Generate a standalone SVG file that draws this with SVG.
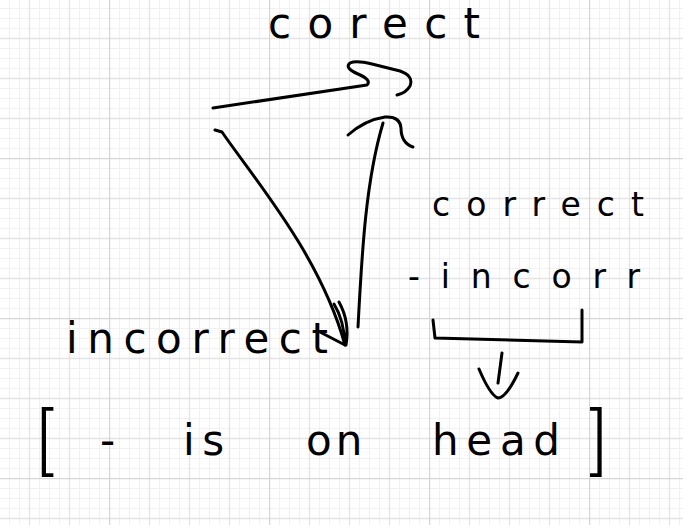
<svg xmlns="http://www.w3.org/2000/svg" width="683" height="525" viewBox="0 0 683 525">
  <style>
    .ink { fill: none; stroke: #000; stroke-width: 3; stroke-linecap: round; stroke-linejoin: round; }
    .hw { font-family: "DejaVu Sans", "Liberation Sans", sans-serif; fill: #000; }
    .br { font-family: "Roboto", "Inter", "Liberation Sans", sans-serif; font-weight: 300; }
  </style>
  <defs>
    <pattern id="grid" x="109" y="158" width="160" height="160" patternUnits="userSpaceOnUse">
      <path d="M10.5,0V160M20.5,0V160M30.5,0V160M50.5,0V160M60.5,0V160M70.5,0V160M90.5,0V160M100.5,0V160M110.5,0V160M130.5,0V160M140.5,0V160M150.5,0V160
               M0,10.5H160M0,20.5H160M0,30.5H160M0,50.5H160M0,60.5H160M0,70.5H160M0,90.5H160M0,100.5H160M0,110.5H160M0,130.5H160M0,140.5H160M0,150.5H160"
            stroke="#f1f1f1" stroke-width="1" fill="none"/>
      <path d="M40.5,0V160M80.5,0V160M120.5,0V160M0,40.5H160M0,80.5H160M0,120.5H160" stroke="#e4e4e4" stroke-width="1.3" fill="none"/>
      <path d="M0.5,0V160M0,0.5H160" stroke="#d6d6d6" stroke-width="1.5" fill="none"/>
    </pattern>
  </defs>
  <rect width="683" height="525" fill="#fff"/>
  <rect width="683" height="525" fill="url(#grid)"/>

  <g id="node-corect">
    <text class="hw" x="268" y="38" font-size="42" textLength="212" lengthAdjust="spacing">corect</text>
  </g>

  <g id="node-correct-incorr">
    <text class="hw" x="432" y="216" font-size="33" textLength="212" lengthAdjust="spacing">correct</text>
    <text class="hw" x="408" y="288" font-size="33" textLength="232" lengthAdjust="spacing">-incorr</text>
    <path class="ink" d="M433,320 L435,338 L582,342 L582,310"/>
  </g>

  <g id="node-incorrect">
    <text class="hw" x="66" y="353" font-size="42" textLength="262" lengthAdjust="spacing">incorrect</text>
  </g>

  <g id="node-head">
    <text class="hw" font-size="42"><tspan class="br" x="36" y="466" font-size="72">[</tspan><tspan x="100" y="455" textLength="30" lengthAdjust="spacing">- </tspan><tspan x="183" y="455" textLength="62" lengthAdjust="spacing">is </tspan><tspan x="306" y="455" textLength="74" lengthAdjust="spacing">on </tspan><tspan x="432" y="455" textLength="128" lengthAdjust="spacing">head</tspan><tspan class="br" x="590" y="466" font-size="72">]</tspan></text>
  </g>

  <g id="connectors">
    <path class="ink" d="M213,108 L367,85 Q372,80 358,74 Q344,68 350,63 Q356,60 372,64 L400,71 Q414,76 410,86 Q406,93 397,95"/>
    <path class="ink" d="M215,130 L222,132 C255,180 320,255 345,345"/>
    <path class="ink" d="M334,304 Q344,320 345,345 M339,302 Q350,322 346,345 M318,331 L345,345"/>
    <path class="ink" d="M358,327 C362,250 366,180 383,123"/>
    <path class="ink" d="M348,135 Q365,120 385,117 Q400,116 401,128 Q401,143 413,147"/>
    <path class="ink" d="M502,353 L498,383 M479,369 Q490,395 498,398 Q506,398 518,373"/>
  </g>
</svg>
